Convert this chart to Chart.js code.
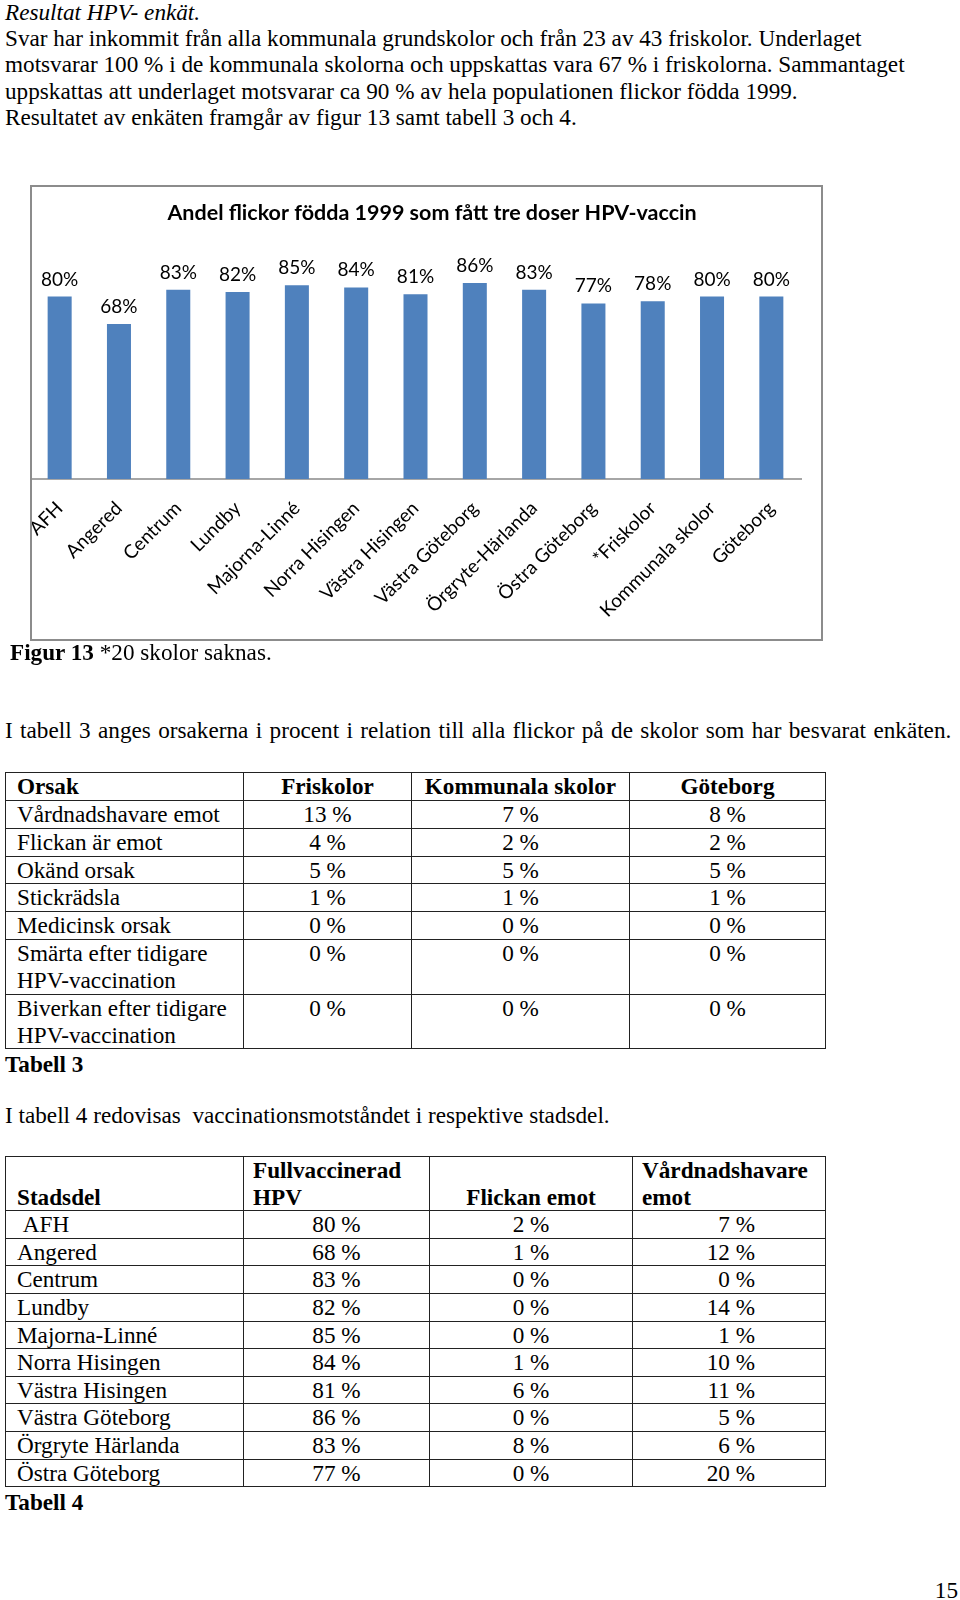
<!DOCTYPE html>
<html lang="sv">
<head>
<meta charset="utf-8">
<title>Resultat HPV-enkät</title>
<script src="https://cdn.jsdelivr.net/npm/chart.js@4.4.1/dist/chart.umd.min.js"></script>
<style>
  html, body { margin: 0; padding: 0; background: #fff; }
  body { width: 960px; height: 1600px; position: relative; overflow: hidden;
         font-family: "Liberation Serif", "Times New Roman", serif; font-size: 23.2px; color: #000; }
  .abs { position: absolute; white-space: nowrap; }
  .para { line-height: 26.2px; }
  #chartBox { position: absolute; left: 30px; top: 185px; width: 793px; height: 456px; }
  #chartBox canvas { position: absolute; left: 0; top: 0; }
  #chartBox .frame { position: absolute; left: 0; top: 0; right: 0; bottom: 0;
         border: 2px solid #8c8c8c; box-sizing: border-box; pointer-events: none; }
  table { position: absolute; border-collapse: collapse; table-layout: fixed; }
  td { border: 1.6px solid #222; padding: 0 0 0 11px; line-height: 26.6px; vertical-align: top; white-space: nowrap; }
  #tab3 td { line-height: 26.85px; }
  td.c { text-align: center; padding: 0; }
  td.r { text-align: right; padding: 0 70px 0 0; }
  .b { font-weight: bold; }
</style>
</head>
<body>

<div class="abs para" style="left:5px; top:-1px;">
  <i>Resultat HPV- enkät.</i><br>
  Svar har inkommit från alla kommunala grundskolor och från 23 av 43 friskolor. Underlaget<br>
  motsvarar 100 % i de kommunala skolorna och uppskattas vara 67 % i friskolorna. Sammantaget<br>
  uppskattas att underlaget motsvarar ca 90 % av hela populationen flickor födda 1999.<br>
  Resultatet av enkäten framgår av figur 13 samt tabell 3 och 4.
</div>

<div id="chartBox">
  <canvas id="hpvChart" width="793" height="456"></canvas>
  <div class="frame"></div>
</div>

<div class="abs" style="left:10px; top:639px;"><b>Figur 13</b> *20 skolor saknas.</div>

<div class="abs" style="left:5px; top:717px; word-spacing:1.6px;">I tabell 3 anges orsakerna i procent i relation till alla flickor på de skolor som har besvarat enkäten.</div>

<table id="tab3" style="left:5px; top:772px; width:820px;">
  <colgroup><col style="width:238px"><col style="width:168px"><col style="width:218px"><col style="width:196px"></colgroup>
  <tbody></tbody>
</table>
<div class="abs b" style="left:5px; top:1051px;">Tabell 3</div>

<div class="abs" style="left:5px; top:1102px;">I tabell 4 redovisas&nbsp; vaccinationsmotståndet i respektive stadsdel.</div>

<table id="tab4" style="left:5px; top:1156px; width:820px;">
  <colgroup><col style="width:238px"><col style="width:186px"><col style="width:203px"><col style="width:193px"></colgroup>
  <tbody></tbody>
</table>
<div class="abs b" style="left:5px; top:1489px;">Tabell 4</div>

<div class="abs" style="right:2px; top:1577px;">15</div>

<script>
// figur 13
const chartTitle = "Andel flickor födda 1999 som fått tre doser HPV-vaccin";
const categories = ["AFH", "Angered", "Centrum", "Lundby", "Majorna-Linné", "Norra Hisingen",
    "Västra Hisingen", "Västra Göteborg", "Örgryte-Härlanda", "Östra Göteborg",
    "*Friskolor", "Kommunala skolor", "Göteborg"];
const vaccinated = [80, 68, 83, 82, 85, 84, 81, 86, 83, 77, 78, 80, 80];

// tabell 3
const t3Header = ["Orsak", "Friskolor", "Kommunala skolor", "Göteborg"];
const t3Reasons = ["Vårdnadshavare emot", "Flickan är emot", "Okänd orsak", "Stickrädsla",
    "Medicinsk orsak", "Smärta efter tidigare<br>HPV-vaccination", "Biverkan efter tidigare<br>HPV-vaccination"];
const t3Friskolor = [13, 4, 5, 1, 0, 0, 0];
const t3Kommunala = [7, 2, 5, 1, 0, 0, 0];
const t3Goteborg = [8, 2, 5, 1, 0, 0, 0];

// tabell 4
const t4Districts = ["&nbsp;AFH", "Angered", "Centrum", "Lundby", "Majorna-Linné", "Norra Hisingen",
    "Västra Hisingen", "Västra Göteborg", "Örgryte Härlanda", "Östra Göteborg"];
const t4Full = [80, 68, 83, 82, 85, 84, 81, 86, 83, 77];
const t4Girl = [2, 1, 0, 0, 0, 1, 6, 0, 8, 0];
const t4Parent = [7, 12, 0, 14, 1, 10, 11, 5, 6, 20];

const pct = v => v + " %";

let rows3 = `<tr><td class="b">${t3Header[0]}</td><td class="c b">${t3Header[1]}</td>` +
    `<td class="c b">${t3Header[2]}</td><td class="c b">${t3Header[3]}</td></tr>`;
t3Reasons.forEach((r, i) => {
    rows3 += `<tr><td>${r}</td><td class="c">${pct(t3Friskolor[i])}</td>` +
        `<td class="c">${pct(t3Kommunala[i])}</td><td class="c">${pct(t3Goteborg[i])}</td></tr>`;
});
document.querySelector("#tab3 tbody").innerHTML = rows3;

let rows4 = `<tr><td class="b" style="vertical-align:bottom">Stadsdel</td>` +
    `<td class="b" style="padding-left:9px">Fullvaccinerad<br>HPV</td>` +
    `<td class="c b" style="vertical-align:bottom">Flickan emot</td>` +
    `<td class="b" style="padding-left:9px">Vårdnadshavare<br>emot</td></tr>`;
t4Districts.forEach((d, i) => {
    rows4 += `<tr><td>${d}</td><td class="c">${pct(t4Full[i])}</td>` +
        `<td class="c">${pct(t4Girl[i])}</td><td class="r">${pct(t4Parent[i])}</td></tr>`;
});
document.querySelector("#tab4 tbody").innerHTML = rows4;

// percent labels over the bars
const barValueLabels = {
    id: "barValueLabels",
    afterDatasetsDraw(chart) {
        const ctx = chart.ctx;
        const meta = chart.getDatasetMeta(0);
        ctx.save();
        ctx.font = "19px Lato";
        ctx.fillStyle = "#000";
        ctx.textAlign = "center";
        ctx.textBaseline = "alphabetic";
        meta.data.forEach((bar, i) => {
            ctx.fillText(vaccinated[i] + "%", bar.x, bar.y - 11);
        });
        ctx.restore();
    }
};

// title sits a bit right of the plot centre, like in the Excel original
const boxTitle = {
    id: "boxTitle",
    afterDraw(chart) {
        const ctx = chart.ctx;
        ctx.save();
        ctx.font = "bold 21.5px Lato";
        ctx.fillStyle = "#000";
        ctx.textAlign = "center";
        ctx.textBaseline = "middle";
        ctx.fillText(chartTitle, 402, 28);
        ctx.restore();
    }
};

new Chart(document.getElementById("hpvChart"), {
    type: "bar",
    data: {
        labels: categories,
        datasets: [{
            data: vaccinated,
            backgroundColor: "#4F81BD",
            barPercentage: 0.405,
            categoryPercentage: 1
        }]
    },
    options: {
        responsive: false,
        animation: false,
        layout: { padding: { top: 66, right: 22, left: 0, bottom: 0 } },
        plugins: {
            legend: { display: false },
            tooltip: { enabled: false },
            title: { display: false }
        },
        scales: {
            y: { display: false, min: 0, max: 100 },
            x: {
                grid: { display: false },
                border: { display: true, color: "#a6a6a6", width: 2 },
                ticks: {
                    autoSkip: false,
                    minRotation: 45,
                    maxRotation: 45,
                    padding: 10,
                    color: "#000",
                    font: { family: "Lato", size: 19 }
                },
                afterFit(scale) {
                    scale.height = 162;
                    scale.paddingLeft = 0;  // the rotated "AFH" label may hang into the frame
                    scale.paddingRight = 0;
                }
            }
        }
    },
    plugins: [barValueLabels, boxTitle]
});
</script>
</body>
</html>
